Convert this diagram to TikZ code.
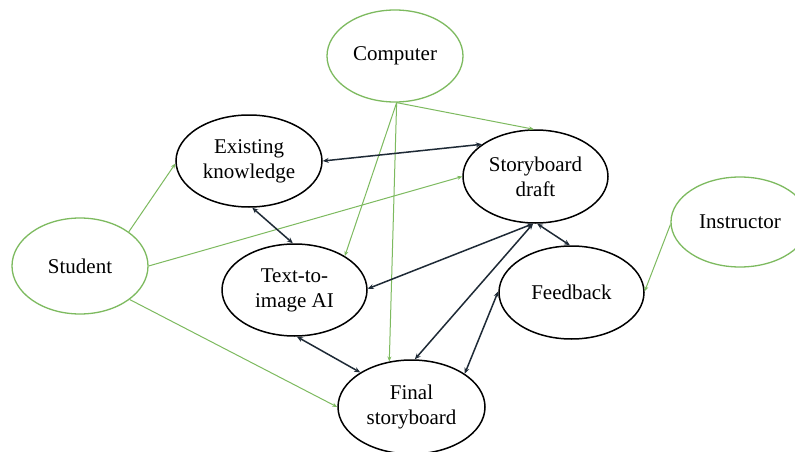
\documentclass[tikz,border=0pt]{standalone}
\usepackage{fontspec}
\setmainfont{Liberation Serif}
\usetikzlibrary{shapes.geometric,arrows.meta}
\definecolor{leaf}{HTML}{7DBA5F}
\definecolor{ink}{HTML}{1E2A36}
\begin{document}
\begin{tikzpicture}[x=1pt,y=-1pt,
  actor/.style={ellipse,draw=leaf,line width=1.3pt,inner sep=0pt,align=center,
    font=\fontsize{21}{25}\selectfont},
  item/.style={ellipse,draw=black,line width=1.5pt,inner sep=0pt,align=center,
    font=\fontsize{21}{25}\selectfont},
  feed/.style={draw=leaf,line width=1pt,-{Stealth[length=5pt,width=4pt]}},
  link/.style={draw=ink,line width=1.5pt,{Stealth[length=6pt,width=5pt]}-{Stealth[length=6pt,width=5pt]}}]
\useasboundingbox (0,0) rectangle (795,452);
\clip (0,0) rectangle (795,452);
\fill[white] (0,0) rectangle (795,452);

% participants
\node[actor,minimum width=136pt,minimum height=92pt] (computer) at (395,56) {Computer};
\node[actor,minimum width=136pt,minimum height=96pt] (student) at (80,266) {Student};
\node[actor,minimum width=138pt,minimum height=90pt] (instructor) at (740,222) {Instructor};

% artefacts and stages
\node[item,minimum width=146pt,minimum height=92pt] (know) at (249,161) {Existing\\knowledge};
\node[item,minimum width=145pt,minimum height=93pt] (draft) at (535.5,176.5) {Storyboard\\draft};
\node[item,minimum width=145pt,minimum height=92pt] (ai) at (294.5,290) {Text-to-\\image AI};
\node[item,minimum width=145pt,minimum height=93pt] (feedback) at (571.5,292.5) {Feedback};
\node[item,minimum width=147pt,minimum height=94pt] (final) at (411.5,407) {Final\\storyboard};

% inputs from the participants
\draw[feed] (computer.-88) -- (draft.92);
\draw[feed] (computer.-88) -- (ai.34);
\draw[feed] (computer.-88) -- (final.116);
\draw[feed] (student.35) -- (know.182);
\draw[feed] (student.0) -- (draft.180);
\draw[feed] (student.-34) -- (final.180);
\draw[feed] (instructor.182) -- (feedback.1);

% two-way exchanges
\draw[link] (know.0) -- (draft.149);
\draw[link] (know.-86) -- (ai.92);
\draw[link] (draft.-93) -- (ai.1);
\draw[link] (draft.-88) -- (feedback.92);
\draw[link] (draft.-93) -- (final.86);
\draw[link] (feedback.179) -- (final.32);
\draw[link] (ai.-87) -- (final.146);
\end{tikzpicture}
\end{document}
